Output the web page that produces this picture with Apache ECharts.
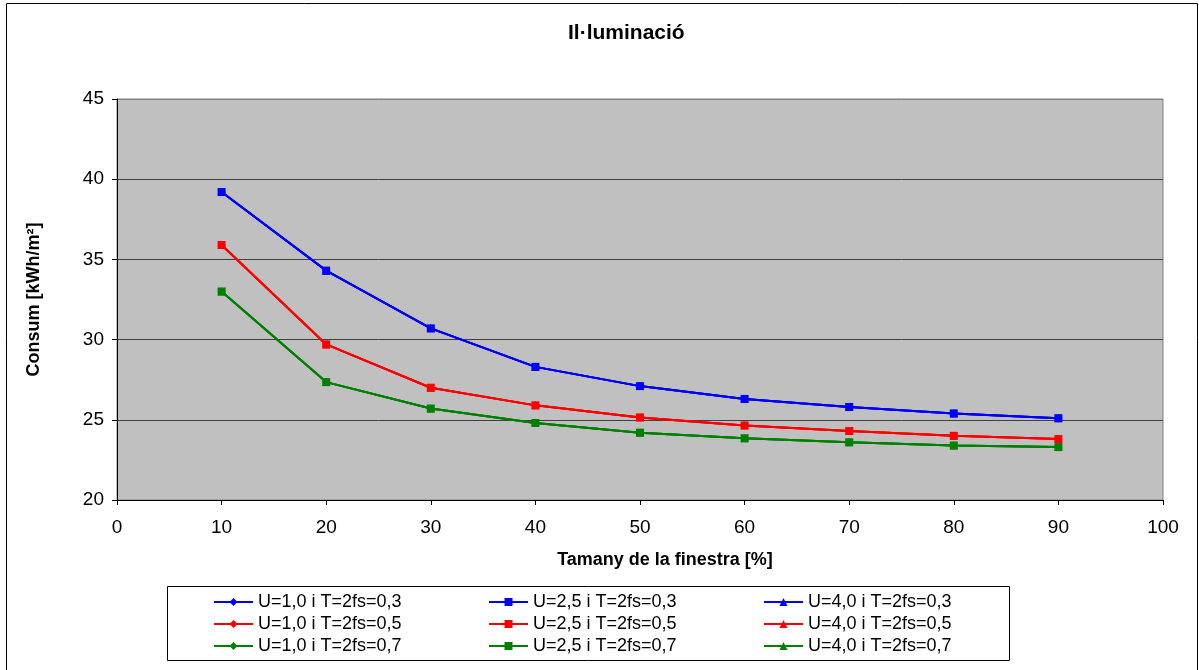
<!DOCTYPE html>
<html>
<head>
<meta charset="utf-8">
<title>Il·luminació</title>
<script src="https://cdn.jsdelivr.net/npm/echarts@6/dist/echarts.min.js"></script>
<style>
  html, body { margin: 0; padding: 0; background: #ffffff; }
  #chart { width: 1199px; height: 670px; }
</style>
</head>
<body>
<div id="chart"></div>
<script>
// Window size (% of facade) on the x axis
const windowSizes = [10, 20, 30, 40, 50, 60, 70, 80, 90];

// Lighting consumption [kWh/m²] for each solar factor; U does not change it
const lighting03 = [39.2, 34.3, 30.7, 28.3, 27.1, 26.3, 25.8, 25.4, 25.1];
const lighting05 = [35.9, 29.7, 27.0, 25.9, 25.15, 24.65, 24.3, 24.0, 23.8];
const lighting07 = [33.0, 27.35, 25.7, 24.8, 24.2, 23.85, 23.6, 23.4, 23.3];

const uValues = ['1,0', '2,5', '4,0'];
const tValues = ['0,3', '0,5', '0,7'];
const tColors = ['#0000FF', '#FF0000', '#008000'];
const uSymbols = ['diamond', 'rect', 'triangle'];
const xTicks = { min: 0, max: 100, interval: 10 };
const yTicks = { min: 20, max: 45, interval: 5 };

const tData = [lighting03, lighting05, lighting07];
const nameOf = (u, t) => 'U=' + u + ' i T=2fs=' + t;
const FONT = 'Liberation Sans, Arial, sans-serif';

const series = [];
uValues.forEach((u, ui) => {
  tValues.forEach((t, ti) => {
    series.push({
      name: nameOf(u, t),
      type: 'line',
      data: windowSizes.map((x, i) => [x, tData[ti][i]]),
      symbol: uSymbols[ui],
      symbolSize: 8,
      showSymbol: true,
      // the square markers sit on top of the coincident lines
      z: ui === 1 ? 5 : 3,
      itemStyle: { color: tColors[ti] },
      lineStyle: { color: tColors[ti], width: 2 },
      emphasis: { disabled: true },
      animation: false
    });
  });
});

// One legend column per U value
const legendCols = [213, 488, 763];
const legends = uValues.map((u, ui) => ({
  orient: 'vertical',
  left: legendCols[ui],
  top: 593,
  padding: 0,
  itemGap: 4,
  itemWidth: 39,
  itemHeight: 10,
  selectedMode: false,
  data: tValues.map(t => nameOf(u, t)),
  textStyle: {
    fontFamily: FONT,
    fontSize: 18,
    lineHeight: 18,
    color: '#000'
  }
}));

const chart = echarts.init(document.getElementById('chart'), null, { renderer: 'canvas' });
chart.setOption({
  backgroundColor: '#ffffff',
  animation: false,
  title: {
    text: 'Il·luminació',
    left: 568,
    top: 23,
    padding: 0,
    textStyle: {
      fontFamily: FONT,
      fontSize: 21,
      fontWeight: 'bold',
      color: '#000'
    }
  },
  legend: legends,
  grid: {
    left: 117,
    right: 36,
    top: 99,
    bottom: 170,
    show: true,
    backgroundColor: '#C0C0C0',
    borderColor: '#808080',
    borderWidth: 1
  },
  xAxis: {
    type: 'value',
    min: xTicks.min,
    max: xTicks.max,
    interval: xTicks.interval,
    name: 'Tamany de la finestra [%]',
    nameLocation: 'middle',
    nameGap: 51,
    nameTextStyle: {
      fontFamily: FONT,
      fontSize: 18,
      fontWeight: 'bold',
      color: '#000',
      padding: [0, 0, 0, 50]
    },
    axisLine: { show: true, lineStyle: { color: '#000', width: 1 } },
    axisTick: { show: true, inside: false, length: 5, lineStyle: { color: '#000' } },
    axisLabel: {
      margin: 18,
      fontFamily: FONT,
      fontSize: 19,
      color: '#000'
    },
    splitLine: { show: false }
  },
  yAxis: {
    type: 'value',
    min: yTicks.min,
    max: yTicks.max,
    interval: yTicks.interval,
    name: 'Consum [kWh/m²]',
    nameLocation: 'middle',
    nameGap: 74,
    nameTextStyle: {
      fontFamily: FONT,
      fontSize: 18,
      fontWeight: 'bold',
      color: '#000'
    },
    axisLine: { show: true, lineStyle: { color: '#000', width: 1 } },
    axisTick: { show: true, inside: false, length: 5, lineStyle: { color: '#000' } },
    axisLabel: {
      margin: 13,
      fontFamily: FONT,
      fontSize: 19,
      color: '#000'
    },
    splitLine: {
      show: true,
      lineStyle: { color: ['#000', '#404040', '#404040', '#404040', '#404040', '#808080'], width: 1 }
    }
  },
  graphic: [
    {
      type: 'rect',
      silent: true,
      shape: { x: 6.5, y: 3.5, width: 1191, height: 700 },
      style: { fill: null, stroke: '#000', lineWidth: 1 }
    },
    {
      type: 'rect',
      silent: true,
      shape: { x: 167.5, y: 586.5, width: 842, height: 74 },
      style: { fill: null, stroke: '#000', lineWidth: 1 }
    }
  ],
  series: series
});
</script>
</body>
</html>
